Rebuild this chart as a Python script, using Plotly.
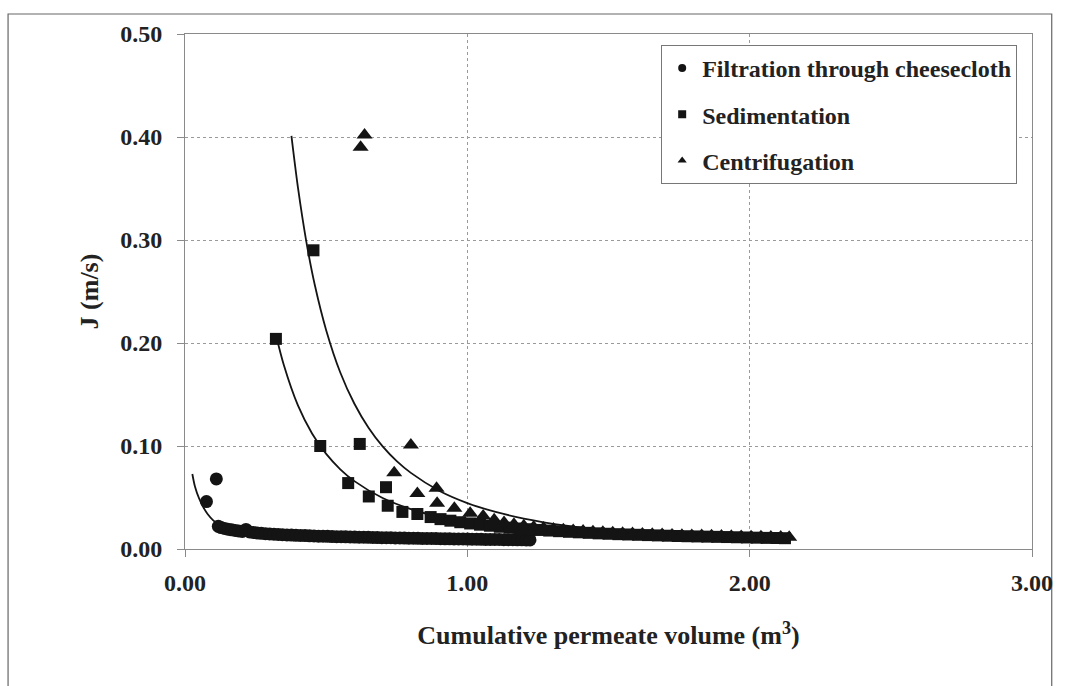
import plotly.graph_objects as go

# Filtration through cheesecloth: cumulative permeate volume (m3) vs flux J (m/s)
filt_v = [0.076, 0.111,
          0.118, 0.128, 0.140, 0.152, 0.165, 0.178, 0.190, 0.203, 0.216, 0.229, 0.242,
          0.256, 0.270, 0.285, 0.300, 0.315, 0.330, 0.345, 0.361, 0.377, 0.393, 0.409,
          0.425, 0.441, 0.457, 0.473, 0.489, 0.505, 0.521, 0.537, 0.553, 0.569, 0.585,
          0.601, 0.617, 0.633, 0.649, 0.665, 0.681, 0.697, 0.713, 0.729, 0.745, 0.761,
          0.777, 0.793, 0.809, 0.825, 0.841, 0.857, 0.873, 0.889, 0.905, 0.921, 0.937,
          0.953, 0.969, 0.985, 1.001, 1.017, 1.033, 1.049, 1.065, 1.081, 1.097, 1.113,
          1.129, 1.145, 1.161, 1.177, 1.193, 1.209, 1.222]
filt_j = [0.046, 0.068,
          0.0220, 0.0208, 0.0200, 0.0192, 0.0186, 0.0180, 0.0175, 0.0170, 0.0190, 0.0165, 0.0160,
          0.0156, 0.0152, 0.0149, 0.0146, 0.0143, 0.0141, 0.0139, 0.0137, 0.0135, 0.0133, 0.0131,
          0.0130, 0.0128, 0.0127, 0.0125, 0.0124, 0.0123, 0.0121, 0.0120, 0.0119, 0.0118, 0.0117,
          0.0116, 0.0115, 0.0114, 0.0113, 0.0112, 0.0111, 0.0110, 0.0109, 0.0109, 0.0108, 0.0107,
          0.0106, 0.0105, 0.0105, 0.0104, 0.0103, 0.0102, 0.0102, 0.0101, 0.0100, 0.0099, 0.0099,
          0.0098, 0.0097, 0.0097, 0.0096, 0.0095, 0.0095, 0.0094, 0.0093, 0.0093, 0.0092, 0.0092,
          0.0091, 0.0090, 0.0090, 0.0089, 0.0089, 0.0088, 0.0088]

# Sedimentation
sed_v = [0.322, 0.455, 0.479, 0.578, 0.619, 0.651, 0.712, 0.718, 0.770, 0.823, 0.870,
         0.905, 0.940, 0.975, 1.010, 1.045, 1.080, 1.115, 1.150, 1.185, 1.220, 1.255,
         1.290, 1.325, 1.360, 1.395, 1.430, 1.465, 1.500, 1.535, 1.570, 1.605, 1.640,
         1.675, 1.710, 1.745, 1.780, 1.815, 1.850, 1.885, 1.920, 1.955, 1.990, 2.025,
         2.060, 2.095, 2.125]
sed_j = [0.204, 0.290, 0.100, 0.064, 0.102, 0.051, 0.060, 0.042, 0.036, 0.034, 0.031,
         0.0290, 0.0275, 0.0260, 0.0248, 0.0236, 0.0226, 0.0216, 0.0207, 0.0199, 0.0192, 0.0185,
         0.0179, 0.0173, 0.0167, 0.0162, 0.0157, 0.0152, 0.0148, 0.0144, 0.0141, 0.0138, 0.0135,
         0.0132, 0.0129, 0.0126, 0.0124, 0.0122, 0.0120, 0.0118, 0.0116, 0.0114, 0.0112, 0.0110,
         0.0108, 0.0107, 0.0105]

# Centrifugation
cen_v = [0.622, 0.636, 0.741, 0.800, 0.823, 0.891, 0.893, 0.954, 1.010, 1.056, 1.095,
         1.130, 1.165, 1.200, 1.235, 1.270, 1.305, 1.340, 1.375, 1.410, 1.445, 1.480,
         1.515, 1.550, 1.585, 1.620, 1.655, 1.690, 1.725, 1.760, 1.795, 1.830, 1.865,
         1.900, 1.935, 1.970, 2.005, 2.040, 2.075, 2.110, 2.140]
cen_j = [0.390, 0.402, 0.074, 0.101, 0.054, 0.059, 0.0445, 0.0396, 0.0347, 0.0320, 0.0285,
         0.0258, 0.0240, 0.0226, 0.0214, 0.0204, 0.0195, 0.0187, 0.0180, 0.0174, 0.0168, 0.0163,
         0.0158, 0.0154, 0.0150, 0.0146, 0.0143, 0.0140, 0.0137, 0.0134, 0.0132, 0.0130, 0.0128,
         0.0126, 0.0124, 0.0122, 0.0120, 0.0119, 0.0117, 0.0116, 0.0115]

# Model curves drawn through each data set
filt_fit_v = [0.026, 0.035, 0.050, 0.065, 0.080, 0.100, 0.120, 0.150, 0.200, 0.300, 0.450,
              0.600, 0.800, 1.000, 1.222]
filt_fit_j = [0.0728, 0.0610, 0.0490, 0.0405, 0.0340, 0.0278, 0.0238, 0.0203, 0.0172, 0.0142,
              0.0121, 0.0109, 0.0100, 0.0094, 0.0088]

sed_fit_v = [0.322, 0.350, 0.400, 0.450, 0.500, 0.550, 0.600, 0.700, 0.800, 0.900, 1.000,
             1.200, 1.400, 1.600, 1.800, 2.000, 2.125]
sed_fit_j = [0.208, 0.1786, 0.1394, 0.1122, 0.0923, 0.0774, 0.0659, 0.0495, 0.0387, 0.0311,
             0.0256, 0.0183, 0.0137, 0.0107, 0.0086, 0.0071, 0.0064]

cen_fit_v = [0.377, 0.400, 0.430, 0.460, 0.500, 0.550, 0.600, 0.650, 0.700, 0.750, 0.800,
             0.900, 1.000, 1.100, 1.200, 1.350, 1.500, 1.700, 1.900, 2.140]
cen_fit_j = [0.401, 0.351, 0.298, 0.256, 0.2125, 0.1714, 0.141, 0.1177, 0.0996, 0.0853, 0.0739,
             0.0566, 0.0446, 0.0360, 0.0296, 0.0227, 0.0179, 0.0136, 0.0105, 0.0081]

x_ticks = [0, 1, 2, 3]
y_ticks = [0.0, 0.1, 0.2, 0.3, 0.4, 0.5]

INK = "#141414"
TEXT = "#222222"
FONT = "Liberation Serif"

fig = go.Figure()

for v, j in [(filt_fit_v, filt_fit_j), (sed_fit_v, sed_fit_j), (cen_fit_v, cen_fit_j)]:
    fig.add_trace(go.Scatter(x=v, y=j, mode="lines",
                             line=dict(color=INK, width=1.8, shape="spline", smoothing=0.8),
                             showlegend=False, hoverinfo="skip"))

fig.add_trace(go.Scatter(x=filt_v, y=filt_j, mode="markers", showlegend=False,
                         marker=dict(symbol="circle", size=13, color=INK)))
fig.add_trace(go.Scatter(x=sed_v, y=sed_j, mode="markers", showlegend=False,
                         marker=dict(symbol="square", size=12, color=INK)))
fig.add_trace(go.Scatter(x=cen_v, y=cen_j, mode="markers", showlegend=False,
                         marker=dict(symbol="triangle-up", size=14, color=INK)))

# legend entries with small key symbols
for name, sym in [("Filtration through cheesecloth", "circle"),
                  ("Sedimentation", "square"),
                  ("Centrifugation", "triangle-up")]:
    fig.add_trace(go.Scatter(x=[None], y=[None], mode="markers", name=name, legendgroup=name,
                             marker=dict(symbol=sym, size=8, color=INK)))

axis_common = dict(showline=True, linecolor="#8a8a8a", linewidth=1, mirror=True,
                   ticks="outside", ticklen=7, tickcolor="#8a8a8a",
                   showgrid=True, gridcolor="#9a9a9a", griddash="dot", gridwidth=1,
                   zeroline=False, tickformat=".2f",
                   tickfont=dict(family=FONT, size=24, color=TEXT, weight="bold"))

fig.update_xaxes(range=[0, 3], tickvals=x_ticks, ticklabelstandoff=5,
                 title=dict(text="<b>Cumulative permeate volume (m<sup>3</sup>)</b>",
                            font=dict(family=FONT, size=26, color=TEXT), standoff=31),
                 **axis_common)
fig.update_yaxes(range=[0, 0.5], tickvals=y_ticks, ticklabelstandoff=10,
                 title=dict(text="<b>J (m/s)</b>",
                            font=dict(family=FONT, size=26, color=TEXT), standoff=14),
                 **axis_common)

# outer frame around the whole chart
fig.add_shape(type="rect", xref="paper", yref="paper",
              x0=-0.2089, x1=1.0233, y0=-0.28, y1=1.0388,
              line=dict(color="#666", width=1.2), fillcolor="rgba(0,0,0,0)", layer="below")

fig.update_layout(
    width=1065, height=686,
    margin=dict(l=185, r=23, t=34, b=137),
    paper_bgcolor="white", plot_bgcolor="white",
    font=dict(family=FONT, color=TEXT),
    legend=dict(x=0.9825, y=0.9786, xanchor="right", yanchor="top",
                bgcolor="white", bordercolor="#777", borderwidth=1,
                font=dict(family=FONT, size=24, color=TEXT, weight="bold"),
                tracegroupgap=12, itemwidth=30),
)

fig.write_html("out.html")
